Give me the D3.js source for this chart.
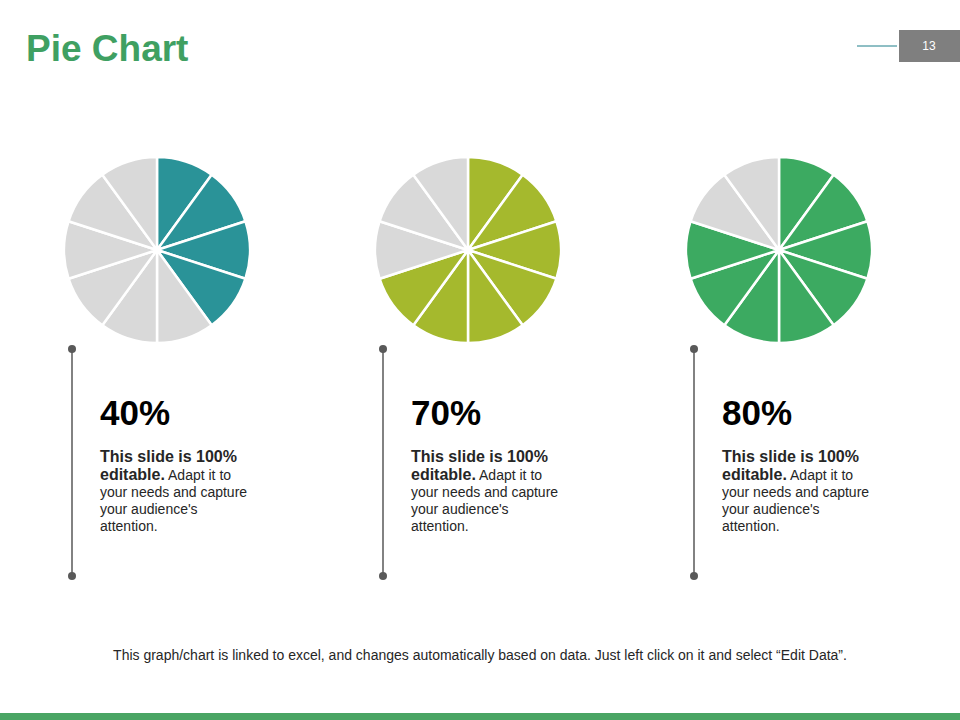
<!DOCTYPE html>
<meta charset="utf-8">
<style>
    body { margin: 0; background: #fff; }
    text { font-family: Arial, "Liberation Sans", sans-serif; }
</style>
<svg class="chart" width="960" height="720"></svg>
<script src="https://d3js.org/d3.v7.min.js"></script>
<script>

    // data
    var percents = [40, 70, 80],
        sliceCount = 10,
        fillColors = ["#2a9398", "#a5b92d", "#3caa61"],
        emptyColor = "#d9d9d9",
        pieCenters = [157, 468, 779],
        bodyBold = ["This slide is 100%", "editable."],
        bodyRest = [" Adapt it to", "your needs and capture", "your audience's", "attention."];

    var svg = d3.select(".chart");

    svg.append("rect").attr("width", 960).attr("height", 720).attr("fill", "#fff");

    // title
    svg.append("text")
        .attr("x", 26).attr("y", 61)
        .attr("fill", "#3fa062")
        .style("font-size", "37px").style("font-weight", "bold")
        .text("Pie Chart");

    // page number
    svg.append("line")
        .attr("x1", 857).attr("x2", 897).attr("y1", 46).attr("y2", 46)
        .attr("stroke", "#1f7f8a").attr("stroke-width", 1);
    svg.append("rect")
        .attr("x", 899).attr("y", 30).attr("width", 61).attr("height", 32)
        .attr("fill", "#7f7f7f");
    svg.append("text")
        .attr("x", 929).attr("y", 50).attr("text-anchor", "middle")
        .attr("fill", "#fff").style("font-size", "12px")
        .text("13");

    var radius = 93;
    var pie = d3.pie().sort(null).value(1);
    var arc = d3.arc().innerRadius(0).outerRadius(radius);

    percents.forEach(function (p, i) {
        var cx = pieCenters[i];
        var filled = Math.round(p / 100 * sliceCount);
        var slices = d3.range(sliceCount).map(function (k) { return k < filled; });

        var g = svg.append("g").attr("transform", "translate(" + cx + ",250)");
        g.selectAll("path")
            .data(pie(slices))
            .enter().append("path")
            .attr("d", arc)
            .attr("fill", function (d) { return d.data ? fillColors[i] : emptyColor; })
            .attr("stroke", "#fff")
            .attr("stroke-width", 2.5)
            .attr("stroke-linejoin", "round");

        // vertical connector
        var lx = cx - 85;
        svg.append("line")
            .attr("x1", lx).attr("x2", lx).attr("y1", 349).attr("y2", 576)
            .attr("stroke", "#595959").attr("stroke-width", 1.5);
        [349, 576].forEach(function (y) {
            svg.append("circle").attr("cx", lx).attr("cy", y).attr("r", 4).attr("fill", "#595959");
        });

        // value label
        var tx = cx - 57;
        svg.append("text")
            .attr("x", tx).attr("y", 425)
            .attr("fill", "#000")
            .style("font-size", "35px").style("font-weight", "bold")
            .text(p + "%");

        // body text
        var body = svg.append("text")
            .attr("x", tx).attr("y", 462)
            .attr("fill", "#262626")
            .style("font-size", "14px");
        body.append("tspan").attr("x", tx).attr("dy", 0)
            .style("font-weight", "bold").style("font-size", "16px").text(bodyBold[0]);
        var l2 = body.append("tspan").attr("x", tx).attr("dy", 18);
        l2.append("tspan").style("font-weight", "bold").style("font-size", "16px").text(bodyBold[1]);
        l2.append("tspan").text(bodyRest[0]);
        bodyRest.slice(1).forEach(function (t) {
            body.append("tspan").attr("x", tx).attr("dy", 17).text(t);
        });
    });

    // footer note
    svg.append("text")
        .attr("x", 480).attr("y", 660).attr("text-anchor", "middle")
        .attr("fill", "#262626")
        .style("font-size", "14px")
        .text("This graph/chart is linked to excel, and changes automatically based on data. Just left click on it and select \u201cEdit Data\u201d.");

    // bottom bar
    svg.append("rect")
        .attr("x", 0).attr("y", 713).attr("width", 960).attr("height", 7)
        .attr("fill", "#4aa564");

</script>
